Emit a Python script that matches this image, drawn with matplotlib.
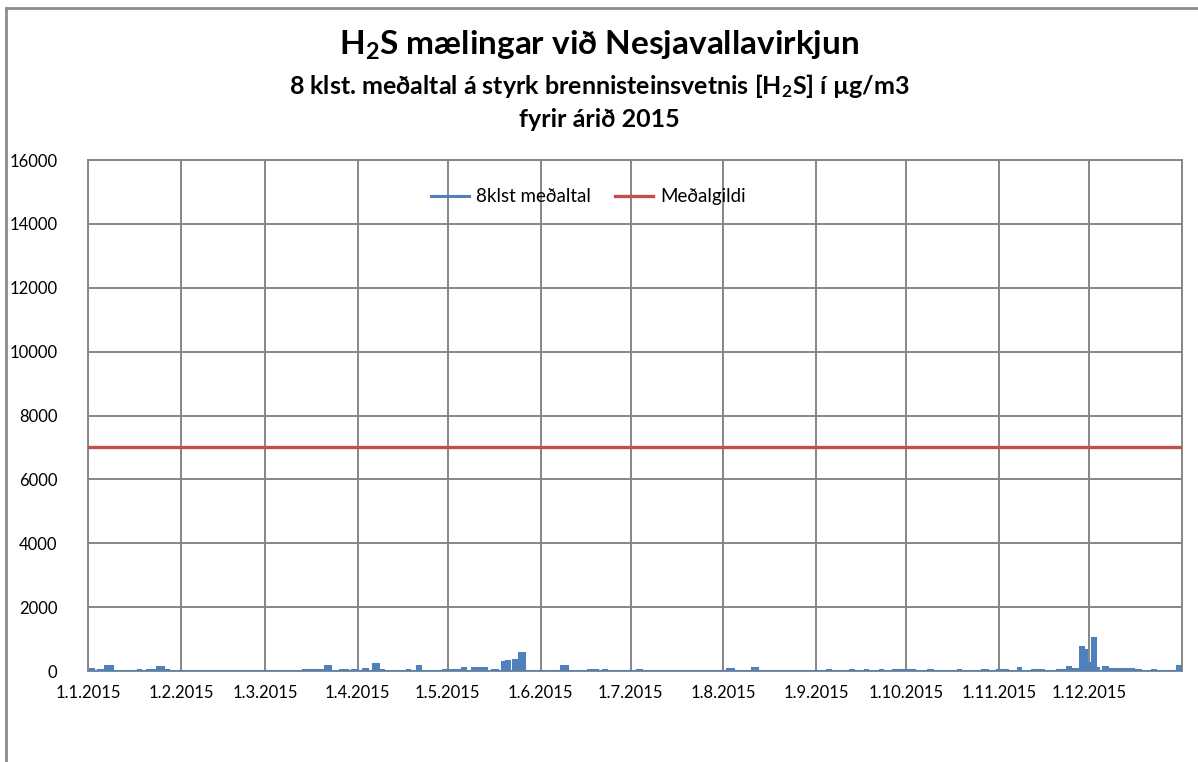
import matplotlib
matplotlib.use('Agg')
import matplotlib.pyplot as plt
from matplotlib.lines import Line2D
import pandas as pd

plt.rcParams['font.family'] = ['Lato', 'DejaVu Sans']
plt.rcParams['mathtext.fontset'] = 'custom'
plt.rcParams['mathtext.bf'] = 'Lato:bold'
plt.rcParams['mathtext.rm'] = 'Lato'
plt.rcParams['mathtext.default'] = 'bf'

# 8 klst. medaltal: bursts above the ~0 baseline (start, end, value in ug/m3)
burst_start = [
	'2015-01-01 16:00', '2015-01-04 08:00', '2015-01-06 16:00', '2015-01-17 16:00', '2015-01-20 16:00',
	'2015-01-24 00:00', '2015-01-26 16:00', '2015-03-13 16:00', '2015-03-21 00:00', '2015-03-26 00:00',
	'2015-03-30 00:00', '2015-04-02 16:00', '2015-04-06 00:00', '2015-04-08 08:00', '2015-04-17 08:00',
	'2015-04-20 16:00', '2015-04-29 08:00', '2015-05-01 16:00', '2015-05-05 16:00', '2015-05-09 00:00',
	'2015-05-15 16:00', '2015-05-19 00:00', '2015-05-20 08:00', '2015-05-22 16:00', '2015-05-24 16:00',
	'2015-06-07 16:00', '2015-06-16 16:00', '2015-06-21 16:00', '2015-07-03 08:00', '2015-08-02 08:00',
	'2015-08-10 16:00', '2015-09-04 16:00', '2015-09-12 08:00', '2015-09-17 08:00', '2015-09-22 08:00',
	'2015-09-26 16:00', '2015-09-28 00:00', '2015-10-02 08:00', '2015-10-08 08:00', '2015-10-18 08:00',
	'2015-10-26 08:00', '2015-10-31 08:00', '2015-11-07 08:00', '2015-11-12 00:00', '2015-11-20 08:00',
	'2015-11-23 16:00', '2015-11-25 08:00', '2015-11-28 00:00', '2015-11-29 00:00', '2015-11-30 08:00',
	'2015-12-02 00:00', '2015-12-03 00:00', '2015-12-05 16:00', '2015-12-07 00:00', '2015-12-16 08:00',
	'2015-12-22 00:00', '2015-12-30 08:00',
]
burst_end = [
	'2015-01-02 16:00', '2015-01-05 16:00', '2015-01-09 00:00', '2015-01-18 08:00', '2015-01-23 08:00',
	'2015-01-26 00:00', '2015-01-27 16:00', '2015-03-20 08:00', '2015-03-22 16:00', '2015-03-28 08:00',
	'2015-03-31 16:00', '2015-04-04 00:00', '2015-04-07 16:00', '2015-04-09 08:00', '2015-04-18 00:00',
	'2015-04-21 16:00', '2015-05-01 00:00', '2015-05-05 00:00', '2015-05-06 16:00', '2015-05-13 16:00',
	'2015-05-17 08:00', '2015-05-19 16:00', '2015-05-21 08:00', '2015-05-24 00:00', '2015-05-26 08:00',
	'2015-06-09 16:00', '2015-06-19 16:00', '2015-06-22 16:00', '2015-07-04 16:00', '2015-08-04 08:00',
	'2015-08-12 08:00', '2015-09-05 16:00', '2015-09-13 08:00', '2015-09-18 00:00', '2015-09-23 00:00',
	'2015-09-28 00:00', '2015-10-02 08:00', '2015-10-03 16:00', '2015-10-09 16:00', '2015-10-19 00:00',
	'2015-10-28 00:00', '2015-11-03 16:00', '2015-11-08 00:00', '2015-11-15 16:00', '2015-11-23 16:00',
	'2015-11-24 16:00', '2015-11-27 00:00', '2015-11-29 00:00', '2015-11-30 00:00', '2015-12-01 16:00',
	'2015-12-03 00:00', '2015-12-04 00:00', '2015-12-07 00:00', '2015-12-15 16:00', '2015-12-18 00:00',
	'2015-12-23 00:00', '2015-12-31 08:00',
]
burst_value = [
	60, 25, 150, 20, 25,
	130, 20, 25, 150, 40,
	25, 60, 210, 25, 25,
	150, 20, 25, 90, 80,
	25, 270, 300, 360, 550,
	150, 25, 20, 25, 60,
	90, 20, 25, 20, 20,
	20, 40, 30, 25, 20,
	25, 30, 80, 20, 25,
	130, 60, 740, 660, 240,
	1020, 110, 130, 50, 30,
	20, 160,
]

# Medalgildi
mean_value = 7000

month_labels = ['1.1.2015', '1.2.2015', '1.3.2015', '1.4.2015', '1.5.2015', '1.6.2015',
	'1.7.2015', '1.8.2015', '1.9.2015', '1.10.2015', '1.11.2015', '1.12.2015']

BLUE = '#4F81BD'
RED = '#C0504D'
GRID = '#868686'


# Turn the bursts into one step series starting and ending at the baseline
def build_series():
	xs = [pd.Timestamp('2015-01-01')]
	ys = [0]
	for s, e, v in zip(burst_start, burst_end, burst_value):
		xs.append(pd.Timestamp(s))
		ys.append(v)
		xs.append(pd.Timestamp(e))
		ys.append(0)
	xs.append(pd.Timestamp('2016-01-01'))
	ys.append(0)
	return xs, ys


def main():
	fig = plt.figure(figsize=(11.98, 7.62), dpi=100)
	ax = fig.add_axes([0.0735, 0.1194, 0.9131, 0.6706])

	xs, ys = build_series()
	start = pd.Timestamp('2015-01-01')
	end = pd.Timestamp('2016-01-01')

	ax.fill_between(xs, ys, 0, step='post', color=BLUE, linewidth=0, zorder=3)
	ax.plot(xs, ys, drawstyle='steps-post', color=BLUE, linewidth=2.2, zorder=4,
		solid_joinstyle='miter', label='8klst meðaltal')
	ax.plot([start, end], [mean_value, mean_value], color=RED, linewidth=2.4, zorder=4,
		label='Meðalgildi')

	ax.set_xlim(start, end)
	ax.set_ylim(0, 16000)
	ax.set_yticks(range(0, 16001, 2000))
	ticks = pd.date_range('2015-01-01', periods=12, freq='MS')
	ax.set_xticks(ticks)
	ax.set_xticklabels(month_labels)

	ax.grid(True, color=GRID, linewidth=1.4, zorder=1)
	ax.set_axisbelow(True)
	for sp in ax.spines.values():
		sp.set_color(GRID)
		sp.set_linewidth(1.4)
	ax.tick_params(length=0, labelsize=12, colors='black', pad=10)
	ax.tick_params(axis='y', pad=22)

	ax.legend(loc='center', bbox_to_anchor=(0.4575, 0.928), ncol=2, frameon=False,
		fontsize=13.5, handlelength=2.0, columnspacing=1.3, handletextpad=0.4)

	# titles
	fig.text(0.5, 0.941, 'H$_2$S mælingar við Nesjavallavirkjun', ha='center', va='center',
		fontsize=24, fontweight='bold')
	fig.text(0.5, 0.887, '8 klst. meðaltal á styrk brennisteinsvetnis [H$_2$S] í µg/m3', ha='center',
		va='center', fontsize=18, fontweight='bold')
	fig.text(0.5, 0.843, 'fyrir árið 2015', ha='center', va='center', fontsize=18, fontweight='bold')

	# chart area border (cut off on the right and bottom in the screenshot)
	fig.add_artist(Line2D([0.005, 1.0], [0.9895, 0.9895], color='#8C8C8C', linewidth=2))
	fig.add_artist(Line2D([0.005, 0.005], [0.0, 0.9895], color='#8C8C8C', linewidth=2))

	fig.savefig('out.png', dpi=100)


if __name__ == '__main__':
	main()
